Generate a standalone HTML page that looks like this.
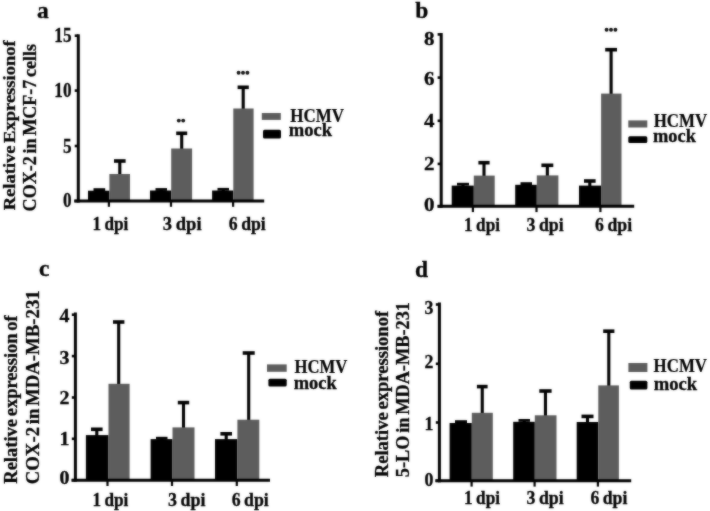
<!DOCTYPE html>
<html><head><meta charset="utf-8"><title>Figure</title>
<style>
html,body{margin:0;padding:0;background:#fff;}
body{width:710px;height:511px;overflow:hidden;font-family:"Liberation Serif",serif;}
svg{display:block;}
</style></head><body>
<svg width="710" height="511" viewBox="0 0 710 511">
<defs><filter id="soft" color-interpolation-filters="sRGB" x="0" y="0" width="710" height="511" filterUnits="userSpaceOnUse"><feGaussianBlur in="SourceGraphic" stdDeviation="0.8" result="b"/><feComposite in="b" in2="SourceGraphic" operator="arithmetic" k1="0" k2="0.5" k3="0.50" k4="0"/></filter></defs>
<rect width="710" height="511" fill="#fff"/>
<g filter="url(#soft)">
<rect width="710" height="511" fill="#fff"/>
<line x1="99.35" y1="189.60" x2="99.35" y2="191.70" stroke="#000" stroke-width="3.1" stroke-linecap="butt"/>
<line x1="93.50" y1="189.60" x2="105.20" y2="189.60" stroke="#000" stroke-width="2.8" stroke-linecap="butt"/>
<rect x="88.00" y="190.70" width="21.40" height="10.30" fill="#000"/>
<line x1="119.80" y1="161.00" x2="119.80" y2="175.00" stroke="#000" stroke-width="3.1" stroke-linecap="butt"/>
<line x1="114.00" y1="161.00" x2="125.60" y2="161.00" stroke="#000" stroke-width="3.6" stroke-linecap="butt"/>
<rect x="109.40" y="174.00" width="20.60" height="27.00" fill="#5d5d5d"/>
<line x1="161.25" y1="189.50" x2="161.25" y2="191.50" stroke="#000" stroke-width="3.1" stroke-linecap="butt"/>
<line x1="155.50" y1="189.50" x2="167.00" y2="189.50" stroke="#000" stroke-width="2.8" stroke-linecap="butt"/>
<rect x="150.00" y="190.50" width="21.20" height="10.50" fill="#000"/>
<line x1="181.70" y1="133.30" x2="181.70" y2="149.50" stroke="#000" stroke-width="3.1" stroke-linecap="butt"/>
<line x1="176.20" y1="133.30" x2="187.20" y2="133.30" stroke="#000" stroke-width="3.6" stroke-linecap="butt"/>
<rect x="171.20" y="148.50" width="20.90" height="52.50" fill="#5d5d5d"/>
<line x1="223.25" y1="189.30" x2="223.25" y2="191.50" stroke="#000" stroke-width="3.1" stroke-linecap="butt"/>
<line x1="217.50" y1="189.30" x2="229.00" y2="189.30" stroke="#000" stroke-width="2.8" stroke-linecap="butt"/>
<rect x="212.10" y="190.50" width="21.20" height="10.50" fill="#000"/>
<line x1="243.20" y1="87.30" x2="243.20" y2="109.50" stroke="#000" stroke-width="3.1" stroke-linecap="butt"/>
<line x1="237.60" y1="87.30" x2="248.80" y2="87.30" stroke="#000" stroke-width="3.6" stroke-linecap="butt"/>
<rect x="233.30" y="108.50" width="20.30" height="92.50" fill="#5d5d5d"/>
<line x1="78.30" y1="34.30" x2="78.30" y2="202.50" stroke="#000" stroke-width="3.0" stroke-linecap="butt"/>
<line x1="74.20" y1="201.00" x2="264.20" y2="201.00" stroke="#000" stroke-width="3.0" stroke-linecap="butt"/>
<line x1="74.70" y1="35.70" x2="78.30" y2="35.70" stroke="#000" stroke-width="2.6" stroke-linecap="butt"/>
<text x="54.30" y="42.30" font-family='"Liberation Serif", serif' font-size="20.5" font-weight="bold" text-anchor="start" textLength="17.20" lengthAdjust="spacingAndGlyphs" stroke="#000" stroke-width="0.3">15</text>
<line x1="74.70" y1="90.60" x2="78.30" y2="90.60" stroke="#000" stroke-width="2.6" stroke-linecap="butt"/>
<text x="54.30" y="97.20" font-family='"Liberation Serif", serif' font-size="20.5" font-weight="bold" text-anchor="start" textLength="17.20" lengthAdjust="spacingAndGlyphs" stroke="#000" stroke-width="0.3">10</text>
<line x1="74.70" y1="146.00" x2="78.30" y2="146.00" stroke="#000" stroke-width="2.6" stroke-linecap="butt"/>
<text x="62.90" y="152.60" font-family='"Liberation Serif", serif' font-size="20.5" font-weight="bold" text-anchor="start" textLength="8.60" lengthAdjust="spacingAndGlyphs" stroke="#000" stroke-width="0.3">5</text>
<line x1="74.70" y1="201.00" x2="78.30" y2="201.00" stroke="#000" stroke-width="2.6" stroke-linecap="butt"/>
<text x="62.90" y="207.00" font-family='"Liberation Serif", serif' font-size="20.5" font-weight="bold" text-anchor="start" textLength="8.60" lengthAdjust="spacingAndGlyphs" stroke="#000" stroke-width="0.3">0</text>
<line x1="108.90" y1="201.00" x2="108.90" y2="206.80" stroke="#000" stroke-width="2.2" stroke-linecap="butt"/>
<line x1="171.00" y1="201.00" x2="171.00" y2="206.80" stroke="#000" stroke-width="2.2" stroke-linecap="butt"/>
<line x1="233.10" y1="201.00" x2="233.10" y2="206.80" stroke="#000" stroke-width="2.2" stroke-linecap="butt"/>
<text x="92.40" y="230.30" font-family='"Liberation Serif", serif' font-size="19.2" font-weight="bold" text-anchor="start" textLength="35.90" lengthAdjust="spacingAndGlyphs" stroke="#000" stroke-width="0.3" word-spacing="-1.0">1 dpi</text>
<text x="162.80" y="230.30" font-family='"Liberation Serif", serif' font-size="19.2" font-weight="bold" text-anchor="start" textLength="38.80" lengthAdjust="spacingAndGlyphs" stroke="#000" stroke-width="0.3" word-spacing="-1.0">3 dpi</text>
<text x="228.80" y="230.30" font-family='"Liberation Serif", serif' font-size="19.2" font-weight="bold" text-anchor="start" textLength="37.00" lengthAdjust="spacingAndGlyphs" stroke="#000" stroke-width="0.3" word-spacing="-1.0">6 dpi</text>
<rect x="261.80" y="113.00" width="19.00" height="6.90" fill="#5d5d5d"/>
<rect x="263.00" y="129.80" width="18.00" height="8.80" rx="1.5" fill="#000"/>
<text x="290.20" y="121.60" font-family='"Liberation Serif", serif' font-size="19.5" font-weight="bold" text-anchor="start" textLength="53.70" lengthAdjust="spacingAndGlyphs" stroke="#000" stroke-width="0.22">HCMV</text>
<text x="288.80" y="136.40" font-family='"Liberation Serif", serif' font-size="19.5" font-weight="bold" text-anchor="start" textLength="43.30" lengthAdjust="spacingAndGlyphs" stroke="#000" stroke-width="0.3">mock</text>
<circle cx="178.80" cy="120.60" r="1.95" fill="#111"/>
<circle cx="183.20" cy="120.60" r="1.95" fill="#111"/>
<circle cx="238.60" cy="72.70" r="1.95" fill="#111"/>
<circle cx="243.00" cy="72.70" r="1.95" fill="#111"/>
<circle cx="247.40" cy="72.70" r="1.95" fill="#111"/>
<text x="37.00" y="18.30" font-family='"Liberation Serif", serif' font-size="23.5" font-weight="bold" text-anchor="start" stroke="#000" stroke-width="0.3">a</text>
<text transform="translate(14.60,210.30) rotate(-90)" font-family='"Liberation Serif", serif' font-size="17.5" font-weight="bold" stroke="#000" stroke-width="0.3" word-spacing="-2.0" textLength="170.00" lengthAdjust="spacingAndGlyphs" xml:space="preserve">Relative Expressionof</text>
<text transform="translate(35.60,211.40) rotate(-90)" font-family='"Liberation Serif", serif' font-size="19.5" font-weight="bold" stroke="#000" stroke-width="0.3" word-spacing="-2.0" textLength="167.50" lengthAdjust="spacingAndGlyphs" xml:space="preserve">COX-2 in MCF-7 cells</text>
<line x1="463.00" y1="184.20" x2="463.00" y2="186.60" stroke="#000" stroke-width="3.1" stroke-linecap="butt"/>
<line x1="457.00" y1="184.20" x2="469.00" y2="184.20" stroke="#000" stroke-width="2.8" stroke-linecap="butt"/>
<rect x="451.70" y="185.60" width="22.10" height="20.70" fill="#000"/>
<line x1="484.00" y1="162.70" x2="484.00" y2="176.60" stroke="#000" stroke-width="3.1" stroke-linecap="butt"/>
<line x1="478.40" y1="162.70" x2="489.60" y2="162.70" stroke="#000" stroke-width="3.6" stroke-linecap="butt"/>
<rect x="473.80" y="175.60" width="20.90" height="30.70" fill="#5d5d5d"/>
<line x1="526.25" y1="183.60" x2="526.25" y2="185.80" stroke="#000" stroke-width="3.1" stroke-linecap="butt"/>
<line x1="520.50" y1="183.60" x2="532.00" y2="183.60" stroke="#000" stroke-width="2.8" stroke-linecap="butt"/>
<rect x="515.20" y="184.80" width="21.60" height="21.50" fill="#000"/>
<line x1="547.35" y1="165.30" x2="547.35" y2="176.40" stroke="#000" stroke-width="3.1" stroke-linecap="butt"/>
<line x1="541.40" y1="165.30" x2="553.30" y2="165.30" stroke="#000" stroke-width="3.6" stroke-linecap="butt"/>
<rect x="536.80" y="175.40" width="21.60" height="30.90" fill="#5d5d5d"/>
<line x1="589.80" y1="181.00" x2="589.80" y2="186.60" stroke="#000" stroke-width="3.1" stroke-linecap="butt"/>
<line x1="584.00" y1="181.00" x2="595.60" y2="181.00" stroke="#000" stroke-width="3.6" stroke-linecap="butt"/>
<rect x="579.00" y="185.60" width="22.10" height="20.70" fill="#000"/>
<line x1="611.10" y1="49.70" x2="611.10" y2="94.60" stroke="#000" stroke-width="3.1" stroke-linecap="butt"/>
<line x1="605.20" y1="49.70" x2="617.00" y2="49.70" stroke="#000" stroke-width="3.6" stroke-linecap="butt"/>
<rect x="601.10" y="93.60" width="20.40" height="112.70" fill="#5d5d5d"/>
<line x1="441.20" y1="33.00" x2="441.20" y2="207.80" stroke="#000" stroke-width="3.0" stroke-linecap="butt"/>
<line x1="437.60" y1="206.30" x2="634.20" y2="206.30" stroke="#000" stroke-width="3.0" stroke-linecap="butt"/>
<line x1="437.60" y1="34.40" x2="441.20" y2="34.40" stroke="#000" stroke-width="2.6" stroke-linecap="butt"/>
<text x="424.10" y="44.80" font-family='"Liberation Serif", serif' font-size="17.8" font-weight="bold" text-anchor="start" textLength="10.50" lengthAdjust="spacingAndGlyphs" stroke="#000" stroke-width="0.3">8</text>
<line x1="437.60" y1="77.60" x2="441.20" y2="77.60" stroke="#000" stroke-width="2.6" stroke-linecap="butt"/>
<text x="424.10" y="84.70" font-family='"Liberation Serif", serif' font-size="17.8" font-weight="bold" text-anchor="start" textLength="10.50" lengthAdjust="spacingAndGlyphs" stroke="#000" stroke-width="0.3">6</text>
<line x1="437.60" y1="120.80" x2="441.20" y2="120.80" stroke="#000" stroke-width="2.6" stroke-linecap="butt"/>
<text x="424.10" y="127.40" font-family='"Liberation Serif", serif' font-size="17.8" font-weight="bold" text-anchor="start" textLength="10.50" lengthAdjust="spacingAndGlyphs" stroke="#000" stroke-width="0.3">4</text>
<line x1="437.60" y1="163.90" x2="441.20" y2="163.90" stroke="#000" stroke-width="2.6" stroke-linecap="butt"/>
<text x="424.10" y="169.80" font-family='"Liberation Serif", serif' font-size="17.8" font-weight="bold" text-anchor="start" textLength="10.50" lengthAdjust="spacingAndGlyphs" stroke="#000" stroke-width="0.3">2</text>
<line x1="437.60" y1="206.30" x2="441.20" y2="206.30" stroke="#000" stroke-width="2.6" stroke-linecap="butt"/>
<text x="424.10" y="211.40" font-family='"Liberation Serif", serif' font-size="17.8" font-weight="bold" text-anchor="start" textLength="10.50" lengthAdjust="spacingAndGlyphs" stroke="#000" stroke-width="0.3">0</text>
<line x1="472.90" y1="206.30" x2="472.90" y2="212.10" stroke="#000" stroke-width="2.2" stroke-linecap="butt"/>
<line x1="536.50" y1="206.30" x2="536.50" y2="212.10" stroke="#000" stroke-width="2.2" stroke-linecap="butt"/>
<line x1="600.40" y1="206.30" x2="600.40" y2="212.10" stroke="#000" stroke-width="2.2" stroke-linecap="butt"/>
<text x="464.10" y="231.40" font-family='"Liberation Serif", serif' font-size="19.2" font-weight="bold" text-anchor="start" textLength="35.90" lengthAdjust="spacingAndGlyphs" stroke="#000" stroke-width="0.3" word-spacing="-1.0">1 dpi</text>
<text x="526.50" y="231.40" font-family='"Liberation Serif", serif' font-size="19.2" font-weight="bold" text-anchor="start" textLength="37.20" lengthAdjust="spacingAndGlyphs" stroke="#000" stroke-width="0.3" word-spacing="-1.0">3 dpi</text>
<text x="595.10" y="231.40" font-family='"Liberation Serif", serif' font-size="19.2" font-weight="bold" text-anchor="start" textLength="37.00" lengthAdjust="spacingAndGlyphs" stroke="#000" stroke-width="0.3" word-spacing="-1.0">6 dpi</text>
<rect x="628.30" y="120.40" width="19.00" height="7.10" fill="#5d5d5d"/>
<rect x="628.30" y="136.30" width="19.00" height="6.70" rx="1.5" fill="#000"/>
<text x="653.70" y="126.50" font-family='"Liberation Serif", serif' font-size="19.5" font-weight="bold" text-anchor="start" textLength="53.50" lengthAdjust="spacingAndGlyphs" stroke="#000" stroke-width="0.22">HCMV</text>
<text x="653.00" y="141.50" font-family='"Liberation Serif", serif' font-size="19.5" font-weight="bold" text-anchor="start" textLength="42.90" lengthAdjust="spacingAndGlyphs" stroke="#000" stroke-width="0.3">mock</text>
<circle cx="606.60" cy="29.80" r="1.95" fill="#111"/>
<circle cx="611.00" cy="29.80" r="1.95" fill="#111"/>
<circle cx="615.40" cy="29.80" r="1.95" fill="#111"/>
<text x="415.30" y="18.30" font-family='"Liberation Serif", serif' font-size="23.5" font-weight="bold" text-anchor="start" stroke="#000" stroke-width="0.3">b</text>
<line x1="96.80" y1="429.30" x2="96.80" y2="436.10" stroke="#000" stroke-width="3.1" stroke-linecap="butt"/>
<line x1="91.00" y1="429.30" x2="102.60" y2="429.30" stroke="#000" stroke-width="3.6" stroke-linecap="butt"/>
<rect x="85.90" y="435.10" width="22.60" height="45.10" fill="#000"/>
<line x1="118.70" y1="322.00" x2="118.70" y2="384.80" stroke="#000" stroke-width="3.1" stroke-linecap="butt"/>
<line x1="113.00" y1="322.00" x2="124.40" y2="322.00" stroke="#000" stroke-width="3.6" stroke-linecap="butt"/>
<rect x="108.50" y="383.80" width="21.10" height="96.40" fill="#5d5d5d"/>
<line x1="161.75" y1="438.20" x2="161.75" y2="440.10" stroke="#000" stroke-width="3.1" stroke-linecap="butt"/>
<line x1="156.00" y1="438.20" x2="167.50" y2="438.20" stroke="#000" stroke-width="2.8" stroke-linecap="butt"/>
<rect x="150.60" y="439.10" width="21.90" height="41.10" fill="#000"/>
<line x1="183.50" y1="402.60" x2="183.50" y2="428.40" stroke="#000" stroke-width="3.1" stroke-linecap="butt"/>
<line x1="177.80" y1="402.60" x2="189.20" y2="402.60" stroke="#000" stroke-width="3.6" stroke-linecap="butt"/>
<rect x="172.50" y="427.40" width="22.00" height="52.80" fill="#5d5d5d"/>
<line x1="226.20" y1="433.80" x2="226.20" y2="440.10" stroke="#000" stroke-width="3.1" stroke-linecap="butt"/>
<line x1="220.40" y1="433.80" x2="232.00" y2="433.80" stroke="#000" stroke-width="3.6" stroke-linecap="butt"/>
<rect x="215.00" y="439.10" width="22.40" height="41.10" fill="#000"/>
<line x1="248.70" y1="353.00" x2="248.70" y2="420.70" stroke="#000" stroke-width="3.1" stroke-linecap="butt"/>
<line x1="242.70" y1="353.00" x2="254.70" y2="353.00" stroke="#000" stroke-width="3.6" stroke-linecap="butt"/>
<rect x="237.40" y="419.70" width="21.90" height="60.50" fill="#5d5d5d"/>
<line x1="75.40" y1="312.50" x2="75.40" y2="481.70" stroke="#000" stroke-width="3.0" stroke-linecap="butt"/>
<line x1="71.50" y1="480.20" x2="270.00" y2="480.20" stroke="#000" stroke-width="3.0" stroke-linecap="butt"/>
<line x1="71.80" y1="314.70" x2="75.40" y2="314.70" stroke="#000" stroke-width="2.6" stroke-linecap="butt"/>
<text x="59.43" y="322.20" font-family='"Liberation Serif", serif' font-size="17.8" font-weight="bold" text-anchor="start" textLength="9.97" lengthAdjust="spacingAndGlyphs" stroke="#000" stroke-width="0.3">4</text>
<line x1="71.80" y1="356.10" x2="75.40" y2="356.10" stroke="#000" stroke-width="2.6" stroke-linecap="butt"/>
<text x="59.43" y="364.30" font-family='"Liberation Serif", serif' font-size="17.8" font-weight="bold" text-anchor="start" textLength="9.97" lengthAdjust="spacingAndGlyphs" stroke="#000" stroke-width="0.3">3</text>
<line x1="71.80" y1="397.50" x2="75.40" y2="397.50" stroke="#000" stroke-width="2.6" stroke-linecap="butt"/>
<text x="59.43" y="403.50" font-family='"Liberation Serif", serif' font-size="17.8" font-weight="bold" text-anchor="start" textLength="9.97" lengthAdjust="spacingAndGlyphs" stroke="#000" stroke-width="0.3">2</text>
<line x1="71.80" y1="438.80" x2="75.40" y2="438.80" stroke="#000" stroke-width="2.6" stroke-linecap="butt"/>
<text x="59.43" y="444.50" font-family='"Liberation Serif", serif' font-size="17.8" font-weight="bold" text-anchor="start" textLength="9.97" lengthAdjust="spacingAndGlyphs" stroke="#000" stroke-width="0.3">1</text>
<line x1="71.80" y1="480.20" x2="75.40" y2="480.20" stroke="#000" stroke-width="2.6" stroke-linecap="butt"/>
<text x="59.43" y="484.00" font-family='"Liberation Serif", serif' font-size="17.8" font-weight="bold" text-anchor="start" textLength="9.97" lengthAdjust="spacingAndGlyphs" stroke="#000" stroke-width="0.3">0</text>
<line x1="107.50" y1="480.20" x2="107.50" y2="486.00" stroke="#000" stroke-width="2.2" stroke-linecap="butt"/>
<line x1="172.00" y1="480.20" x2="172.00" y2="486.00" stroke="#000" stroke-width="2.2" stroke-linecap="butt"/>
<line x1="236.80" y1="480.20" x2="236.80" y2="486.00" stroke="#000" stroke-width="2.2" stroke-linecap="butt"/>
<text x="92.40" y="505.70" font-family='"Liberation Serif", serif' font-size="19.2" font-weight="bold" text-anchor="start" textLength="35.90" lengthAdjust="spacingAndGlyphs" stroke="#000" stroke-width="0.3" word-spacing="-1.0">1 dpi</text>
<text x="167.90" y="505.70" font-family='"Liberation Serif", serif' font-size="19.2" font-weight="bold" text-anchor="start" textLength="37.50" lengthAdjust="spacingAndGlyphs" stroke="#000" stroke-width="0.3" word-spacing="-1.0">3 dpi</text>
<text x="231.70" y="505.70" font-family='"Liberation Serif", serif' font-size="19.2" font-weight="bold" text-anchor="start" textLength="37.10" lengthAdjust="spacingAndGlyphs" stroke="#000" stroke-width="0.3" word-spacing="-1.0">6 dpi</text>
<rect x="267.00" y="364.40" width="19.70" height="7.40" fill="#5d5d5d"/>
<rect x="268.40" y="378.80" width="18.30" height="7.70" rx="1.5" fill="#000"/>
<text x="294.40" y="372.50" font-family='"Liberation Serif", serif' font-size="19.5" font-weight="bold" text-anchor="start" textLength="52.90" lengthAdjust="spacingAndGlyphs" stroke="#000" stroke-width="0.22">HCMV</text>
<text x="293.70" y="388.60" font-family='"Liberation Serif", serif' font-size="19.5" font-weight="bold" text-anchor="start" textLength="43.00" lengthAdjust="spacingAndGlyphs" stroke="#000" stroke-width="0.3">mock</text>
<text x="39.00" y="275.70" font-family='"Liberation Serif", serif' font-size="23.5" font-weight="bold" text-anchor="start" stroke="#000" stroke-width="0.3">c</text>
<text transform="translate(17.30,483.70) rotate(-90)" font-family='"Liberation Serif", serif' font-size="19" font-weight="bold" stroke="#000" stroke-width="0.3" word-spacing="-2.0" textLength="168.40" lengthAdjust="spacingAndGlyphs" xml:space="preserve">Relative expression of</text>
<text transform="translate(39.30,484.30) rotate(-90)" font-family='"Liberation Serif", serif' font-size="18.3" font-weight="bold" stroke="#000" stroke-width="0.3" word-spacing="-2.0" textLength="194.00" lengthAdjust="spacingAndGlyphs" xml:space="preserve">COX-2 in MDA-MB-231</text>
<line x1="461.00" y1="421.60" x2="461.00" y2="424.00" stroke="#000" stroke-width="3.1" stroke-linecap="butt"/>
<line x1="455.00" y1="421.60" x2="467.00" y2="421.60" stroke="#000" stroke-width="2.8" stroke-linecap="butt"/>
<rect x="449.60" y="423.00" width="22.20" height="57.80" fill="#000"/>
<line x1="482.25" y1="386.60" x2="482.25" y2="413.80" stroke="#000" stroke-width="3.1" stroke-linecap="butt"/>
<line x1="476.90" y1="386.60" x2="487.60" y2="386.60" stroke="#000" stroke-width="3.6" stroke-linecap="butt"/>
<rect x="471.80" y="412.80" width="21.00" height="68.00" fill="#5d5d5d"/>
<line x1="524.25" y1="420.40" x2="524.25" y2="422.80" stroke="#000" stroke-width="3.1" stroke-linecap="butt"/>
<line x1="518.50" y1="420.40" x2="530.00" y2="420.40" stroke="#000" stroke-width="2.8" stroke-linecap="butt"/>
<rect x="513.20" y="421.80" width="21.60" height="59.00" fill="#000"/>
<line x1="545.45" y1="391.00" x2="545.45" y2="416.30" stroke="#000" stroke-width="3.1" stroke-linecap="butt"/>
<line x1="539.30" y1="391.00" x2="551.60" y2="391.00" stroke="#000" stroke-width="3.6" stroke-linecap="butt"/>
<rect x="534.80" y="415.30" width="21.70" height="65.50" fill="#5d5d5d"/>
<line x1="587.50" y1="416.40" x2="587.50" y2="423.00" stroke="#000" stroke-width="3.1" stroke-linecap="butt"/>
<line x1="581.50" y1="416.40" x2="593.50" y2="416.40" stroke="#000" stroke-width="3.6" stroke-linecap="butt"/>
<rect x="576.70" y="422.00" width="21.60" height="58.80" fill="#000"/>
<line x1="608.80" y1="331.20" x2="608.80" y2="386.40" stroke="#000" stroke-width="3.1" stroke-linecap="butt"/>
<line x1="603.20" y1="331.20" x2="614.40" y2="331.20" stroke="#000" stroke-width="3.6" stroke-linecap="butt"/>
<rect x="598.30" y="385.40" width="20.60" height="95.40" fill="#5d5d5d"/>
<line x1="439.40" y1="302.50" x2="439.40" y2="482.30" stroke="#000" stroke-width="3.0" stroke-linecap="butt"/>
<line x1="435.30" y1="480.80" x2="631.20" y2="480.80" stroke="#000" stroke-width="3.0" stroke-linecap="butt"/>
<line x1="435.80" y1="304.50" x2="439.40" y2="304.50" stroke="#000" stroke-width="2.6" stroke-linecap="butt"/>
<text x="424.50" y="314.20" font-family='"Liberation Serif", serif' font-size="17.8" font-weight="bold" text-anchor="start" textLength="8.90" lengthAdjust="spacingAndGlyphs" stroke="#000" stroke-width="0.3">3</text>
<line x1="435.80" y1="363.80" x2="439.40" y2="363.80" stroke="#000" stroke-width="2.6" stroke-linecap="butt"/>
<text x="424.50" y="367.90" font-family='"Liberation Serif", serif' font-size="17.8" font-weight="bold" text-anchor="start" textLength="8.90" lengthAdjust="spacingAndGlyphs" stroke="#000" stroke-width="0.3">2</text>
<line x1="435.80" y1="422.50" x2="439.40" y2="422.50" stroke="#000" stroke-width="2.6" stroke-linecap="butt"/>
<text x="424.50" y="430.40" font-family='"Liberation Serif", serif' font-size="17.8" font-weight="bold" text-anchor="start" textLength="8.90" lengthAdjust="spacingAndGlyphs" stroke="#000" stroke-width="0.3">1</text>
<line x1="435.80" y1="480.80" x2="439.40" y2="480.80" stroke="#000" stroke-width="2.6" stroke-linecap="butt"/>
<text x="424.50" y="485.90" font-family='"Liberation Serif", serif' font-size="17.8" font-weight="bold" text-anchor="start" textLength="8.90" lengthAdjust="spacingAndGlyphs" stroke="#000" stroke-width="0.3">0</text>
<line x1="471.60" y1="480.80" x2="471.60" y2="486.60" stroke="#000" stroke-width="2.2" stroke-linecap="butt"/>
<line x1="534.60" y1="480.80" x2="534.60" y2="486.60" stroke="#000" stroke-width="2.2" stroke-linecap="butt"/>
<line x1="597.90" y1="480.80" x2="597.90" y2="486.60" stroke="#000" stroke-width="2.2" stroke-linecap="butt"/>
<text x="464.10" y="504.40" font-family='"Liberation Serif", serif' font-size="19.2" font-weight="bold" text-anchor="start" textLength="35.90" lengthAdjust="spacingAndGlyphs" stroke="#000" stroke-width="0.3" word-spacing="-1.0">1 dpi</text>
<text x="526.50" y="504.40" font-family='"Liberation Serif", serif' font-size="19.2" font-weight="bold" text-anchor="start" textLength="37.20" lengthAdjust="spacingAndGlyphs" stroke="#000" stroke-width="0.3" word-spacing="-1.0">3 dpi</text>
<text x="590.40" y="504.40" font-family='"Liberation Serif", serif' font-size="19.2" font-weight="bold" text-anchor="start" textLength="37.00" lengthAdjust="spacingAndGlyphs" stroke="#000" stroke-width="0.3" word-spacing="-1.0">6 dpi</text>
<rect x="628.40" y="363.00" width="19.00" height="9.00" fill="#5d5d5d"/>
<rect x="629.80" y="380.80" width="17.60" height="8.60" rx="1.5" fill="#000"/>
<text x="653.60" y="372.20" font-family='"Liberation Serif", serif' font-size="19.5" font-weight="bold" text-anchor="start" textLength="53.40" lengthAdjust="spacingAndGlyphs" stroke="#000" stroke-width="0.22">HCMV</text>
<text x="653.80" y="389.90" font-family='"Liberation Serif", serif' font-size="19.5" font-weight="bold" text-anchor="start" textLength="43.40" lengthAdjust="spacingAndGlyphs" stroke="#000" stroke-width="0.3">mock</text>
<text x="415.00" y="277.30" font-family='"Liberation Serif", serif' font-size="23.5" font-weight="bold" text-anchor="start" stroke="#000" stroke-width="0.3">d</text>
<text transform="translate(388.30,477.20) rotate(-90)" font-family='"Liberation Serif", serif' font-size="19.5" font-weight="bold" stroke="#000" stroke-width="0.3" word-spacing="-2.0" textLength="166.30" lengthAdjust="spacingAndGlyphs" xml:space="preserve">Relative expressionof</text>
<text transform="translate(409.00,477.20) rotate(-90)" font-family='"Liberation Serif", serif' font-size="19.5" font-weight="bold" stroke="#000" stroke-width="0.3" word-spacing="-2.0" textLength="175.20" lengthAdjust="spacingAndGlyphs" xml:space="preserve">5-LO in MDA-MB-231</text>
</g>
</svg>
</body></html>
